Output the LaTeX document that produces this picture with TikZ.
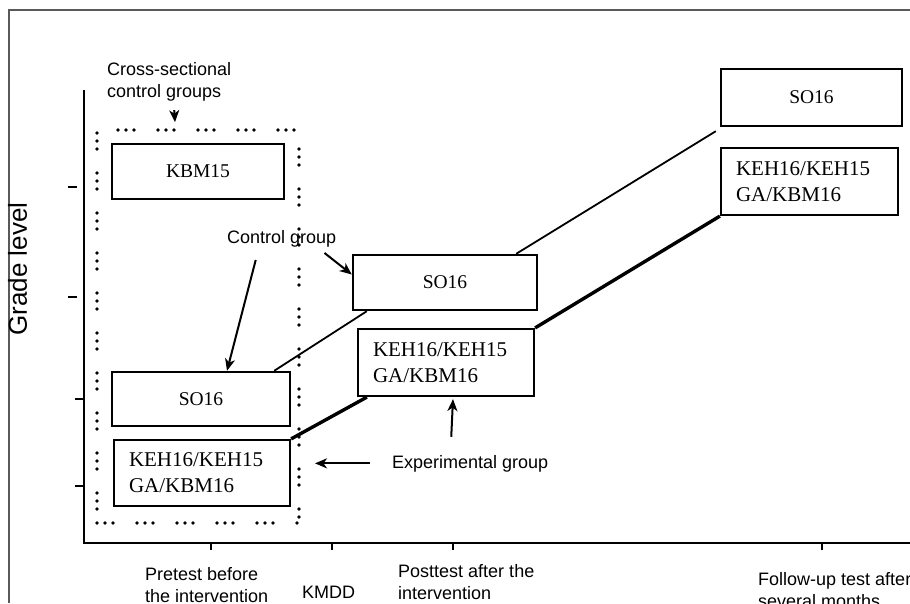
\documentclass[tikz,border=0pt]{standalone}
\usepackage{fontspec}
\setmainfont{Liberation Serif}
\setsansfont{Liberation Sans}
\usetikzlibrary{arrows.meta}

\begin{document}
\begin{tikzpicture}[x=1pt,y=-1pt,
	grp/.style={draw,line width=2.4pt,inner sep=0pt,font=\fontsize{19.5}{24}\selectfont},
	grptwo/.style={draw,line width=2.2pt,inner xsep=15pt,inner ysep=0pt,align=left,font=\fontsize{21}{26}\selectfont},
	dotbox/.style={draw,line width=3.6pt,line cap=round,dash pattern=on 0pt off 8pt on 0pt off 8pt on 0pt off 24pt,inner sep=0pt},
	lbl/.style={inner sep=0pt,align=left,font=\sffamily\fontsize{18}{22}\selectfont},
	arr/.style={-{Stealth[length=12pt,width=10pt,inset=3.5pt]},line width=2pt},
	link/.style={line width=1.8pt},
	thicklink/.style={line width=3.4pt}]
\clip (0,0) rectangle (910,603);
% frame and axes
\draw[line width=2pt,gray!70!black] (9,603) -- (9,10) -- (910,10);
\draw[line width=2.6pt] (84,90) -- (84,543) -- (910,543);
\foreach \y in {187,297}
	\draw[line width=2.4pt] (68,\y) -- +(9,0);
\foreach \y in {399,486}
	\draw[line width=2.4pt] (75,\y) -- +(9,0);
\foreach \x in {211,332,453,822}
	\draw[line width=2.4pt] (\x,543) -- +(0,7);
\node[lbl,anchor=base,rotate=90,font=\sffamily\fontsize{26}{30}\selectfont] (ylbl) at (27,269) {Grade level};

% groups
\node[dotbox,minimum width=202pt,minimum height=393pt] (cross) at (198,326.5) {};
\node[grp,minimum width=172pt,minimum height=55pt] (kbm15) at (198,171.5) {KBM15};
\node[grp,minimum width=178pt,minimum height=54pt] (so16a) at (201,399) {SO16};
\node[grptwo,text width=146pt,minimum height=66pt] (keha) at (202,473) {KEH16/KEH15\\GA/KBM16};
\node[grp,minimum width=184pt,minimum height=55pt] (so16b) at (445,282.5) {SO16};
\node[grptwo,text width=146pt,minimum height=67pt] (kehb) at (446,362.5) {KEH16/KEH15\\GA/KBM16};
\node[grp,minimum width=181pt,minimum height=57pt] (so16c) at (811.5,97.5) {SO16};
\node[grptwo,text width=147pt,minimum height=67pt] (kehc) at (809.5,181.5) {KEH16/KEH15\\GA/KBM16};

\draw[link] ([xshift=-17pt]so16a.north east) -- ([xshift=15pt]so16b.south west);
\draw[link] ([xshift=-22pt]so16b.north east) -- ([xshift=-4pt,yshift=-4pt]so16c.south west);
\draw[thicklink] (keha.north east) -- ([xshift=10pt]kehb.south west);
\draw[thicklink] (kehb.north east) -- (kehc.south west);

% labels and arrows
\node[lbl,anchor=north west] (crosslbl) at (107,62) {Cross-sectional\\control groups};
\draw[arr] ([xshift=5pt,yshift=-9pt]crosslbl.south) -- ([xshift=-23pt,yshift=6pt]cross.north);
\node[lbl,anchor=base west] (ctrl) at (227,243) {Control group};
\draw[arr] ([xshift=-26pt,yshift=-13pt]ctrl.south) -- ([xshift=26pt]so16a.north);
\draw[arr] ([xshift=-12pt,yshift=-6pt]ctrl.south east) -- ([yshift=8pt]so16b.west);
\node[lbl,anchor=base west] (expgrp) at (392,468) {Experimental group};
\draw[arr] ([xshift=-22pt]expgrp.west) -- ([xshift=-77pt]expgrp.west);
\draw[arr] ([xshift=-19pt,yshift=18pt]expgrp.north) -- ([xshift=7pt,yshift=-2pt]kehb.south);

% time points
\node[lbl,anchor=north west] (pre) at (145,567) {Pretest before\\the intervention};
\node[lbl,anchor=base west] (kmdd) at (302,598) {KMDD};
\node[lbl,anchor=north west] (post) at (398,564) {Posttest after the\\intervention};
\node[lbl,anchor=north west] (follow) at (758,572) {Follow-up test after\\several months};
\end{tikzpicture}
\end{document}
